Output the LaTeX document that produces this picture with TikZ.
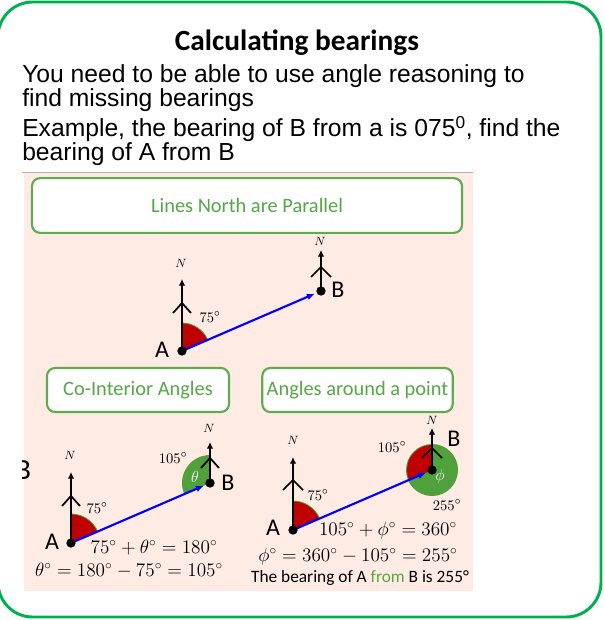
\documentclass[tikz,border=0pt]{standalone}
\usepackage[no-math]{fontspec}
\setmainfont{Liberation Sans}
\newfontfamily\calibri{Carlito}
\usetikzlibrary{arrows.meta}

\definecolor{framegreen}{RGB}{0,176,80}
\definecolor{boxgreen}{RGB}{96,170,80}
\definecolor{textgreen}{RGB}{84,168,70}
\definecolor{sectorgreen}{RGB}{80,160,60}
\definecolor{sectorred}{RGB}{192,0,0}
\definecolor{bgpink}{RGB}{253,235,228}

\begin{document}
\begin{tikzpicture}[x=0.75pt, y=-0.75pt,
  dot/.style={circle, fill=black, inner sep=0pt, minimum size=7pt},
  north/.style={line width=2.2pt, -{Latex[length=5pt,width=5pt]}},
  chev/.style={line width=1.3pt},
  bearing/.style={blue, line width=1.6pt, -{Latex[length=6pt,width=5pt]}, shorten >=5pt},
  nlab/.style={font=\fontsize{9}{10}\selectfont, inner sep=0pt},
  deg/.style={font=\fontsize{11}{12}\selectfont, inner sep=0pt},
  ptlab/.style={font=\calibri\fontsize{18}{19}\selectfont, inner sep=0pt},
  eqn/.style={font=\fontsize{14}{15}\selectfont, inner sep=0pt},
  greenbox/.style={draw=boxgreen, line width=1.6pt, fill=white, rounded corners=6pt,
    text=textgreen, font=\calibri\fontsize{15.3}{17}\selectfont}]
	\useasboundingbox (0,0) rectangle (604,620);
	\draw[framegreen, line width=2.2pt, rounded corners=26pt] (-2,2) rectangle (601,617);
	\node[font=\calibri\bfseries\fontsize{22}{24}\selectfont] (title) at (297,43) {Calculating bearings};
	\node[anchor=base west, inner sep=0pt, align=left, font=\fontsize{18.5}{16.5}\selectfont] (intro) at (22,107)
		{You need to be able to use angle reasoning to\\find missing bearings};
	\node[anchor=base west, inner sep=0pt, align=left, font=\fontsize{18.5}{16.5}\selectfont] (task) at (22,161)
		{Example, the bearing of B from a is 075\textsuperscript{0}, find the\\bearing of A from B};
	\fill[bgpink] (24,173) rectangle (473,591);
	\draw[gray!60, line width=0.6pt] (22,172.5) -- (473,172.5);
	\begin{scope}
		\clip (22.5,450) rectangle (40,495);
		\node[ptlab, font=\calibri\fontsize{22}{24}\selectfont] (Bcut) at (23,470) {B};
	\end{scope}
	\node[greenbox, minimum width=322.5pt, minimum height=41pt] (rule1) at (247,205.5) {Lines North are Parallel};
	\node[greenbox, minimum width=136.5pt, minimum height=33pt] (rule2) at (138,390) {Co-Interior Angles};
	\node[greenbox, minimum width=138.75pt, minimum height=33pt] (rule3) at (357.5,390) {Angles around a point};
	% top diagram
	\coordinate (A1) at (182,351);
	\coordinate (B1) at (321,291);
	\coordinate (A1N) at (182,279);
	\coordinate (B1N) at (321,250);
	\filldraw[fill=sectorred, draw=sectorgreen, line width=0.6pt] (A1) -- ++(270:28) arc[start angle=270, end angle=336.65, radius=28] -- cycle;
	\draw[north] (A1) -- (A1N);
	\draw[north] (B1) -- (B1N);
	\draw[chev] ([shift={(-9,-38)}]A1) -- ([shift={(0,-48)}]A1) -- ([shift={(9,-38)}]A1);
	\draw[chev] ([shift={(-10,-14)}]B1) -- ([shift={(0,-24)}]B1) -- ([shift={(10,-14)}]B1);
	\draw[bearing] (A1) -- (B1);
	\node[dot] (A1dot) at (A1) {};
	\node[dot] (B1dot) at (B1) {};
	\node[nlab] (N1a) at (181,263) {$N$};
	\node[nlab] (N1b) at (320,241) {$N$};
	\node[deg] (deg1) at (210,317) {$75^\circ$};
	\node[ptlab] (labA1) at (162,350) {A};
	\node[ptlab] (labB1) at (338,290) {B};
	% co-interior diagram
	\coordinate (A2) at (71,543);
	\coordinate (B2) at (210,483);
	\coordinate (A2N) at (71,472);
	\coordinate (B2N) at (210,442);
	\filldraw[fill=sectorred, draw=sectorgreen, line width=0.6pt] (A2) -- ++(270:29) arc[start angle=270, end angle=336.65, radius=29] -- cycle;
	\fill[sectorgreen] (B2) -- ++(-90:28) arc[start angle=-90, end angle=-203.35, radius=28] -- cycle;
	\draw[north] (A2) -- (A2N);
	\draw[north] (B2) -- (B2N);
	\draw[chev] ([shift={(-9,-37)}]A2) -- ([shift={(0,-47)}]A2) -- ([shift={(9,-37)}]A2);
	\draw[chev] ([shift={(-9,-15)}]B2) -- ([shift={(0,-25)}]B2) -- ([shift={(9,-15)}]B2);
	\draw[bearing] (A2) -- (B2);
	\node[dot] (A2dot) at (A2) {};
	\node[dot] (B2dot) at (B2) {};
	\node[nlab] (N2a) at (70,455) {$N$};
	\node[nlab] (N2b) at (209,428) {$N$};
	\node[deg] (deg2a) at (97,508) {$75^\circ$};
	\node[deg] (deg2b) at (173,458) {$105^\circ$};
	\node[deg, text=white, font=\fontsize{13}{14}\selectfont] (theta) at (195,477) {$\theta$};
	\node[ptlab] (labA2) at (52,542) {A};
	\node[ptlab] (labB2) at (228,483) {B};
	\node[eqn] (eq2a) at (154,548) {$75^\circ+\theta^\circ=180^\circ$};
	\node[eqn] (eq2b) at (129,571) {$\theta^\circ=180^\circ-75^\circ=105^\circ$};
	% angles around a point diagram
	\coordinate (A3) at (293,530);
	\coordinate (B3) at (432,470);
	\coordinate (A3N) at (293,457);
	\coordinate (B3N) at (432,428);
	\filldraw[fill=sectorred, draw=sectorgreen, line width=0.6pt] (A3) -- ++(270:29) arc[start angle=270, end angle=336.65, radius=29] -- cycle;
	\fill[sectorgreen] (B3) circle (26);
	\fill[sectorred] (B3) -- ++(-90:25) arc[start angle=-90, end angle=-203.35, radius=25] -- cycle;
	\draw[north] (A3) -- (A3N);
	\draw[north] (B3) -- (B3N);
	\draw[chev] ([shift={(-10,-40)}]A3) -- ([shift={(0,-50)}]A3) -- ([shift={(10,-40)}]A3);
	\draw[chev] ([shift={(-10,-12)}]B3) -- ([shift={(0,-22)}]B3) -- ([shift={(10,-12)}]B3);
	\draw[bearing] (A3) -- (B3);
	\node[dot] (A3dot) at (A3) {};
	\node[dot] (B3dot) at (B3) {};
	\node[nlab] (N3a) at (293,440) {$N$};
	\node[nlab] (N3b) at (432,420) {$N$};
	\node[deg] (deg3a) at (318,495) {$75^\circ$};
	\node[deg] (deg3b) at (392,447) {$105^\circ$};
	\node[deg] (deg3c) at (447,505) {$255^\circ$};
	\node[deg, text=white, font=\fontsize{13}{14}\selectfont] (phi) at (440,476) {$\phi$};
	\node[ptlab] (labA3) at (273,528) {A};
	\node[ptlab] (labB3) at (454,439) {B};
	\node[eqn] (eq3a) at (388,531) {$105^\circ+\phi^\circ=360^\circ$};
	\node[eqn] (eq3b) at (358,557) {$\phi^\circ=360^\circ-105^\circ=255^\circ$};
	\node[font=\calibri\fontsize{13}{14}\selectfont, inner sep=0pt] (answer) at (360,578)
		{The bearing of A {\color{textgreen}from} B is 255°};
\end{tikzpicture}
\end{document}
